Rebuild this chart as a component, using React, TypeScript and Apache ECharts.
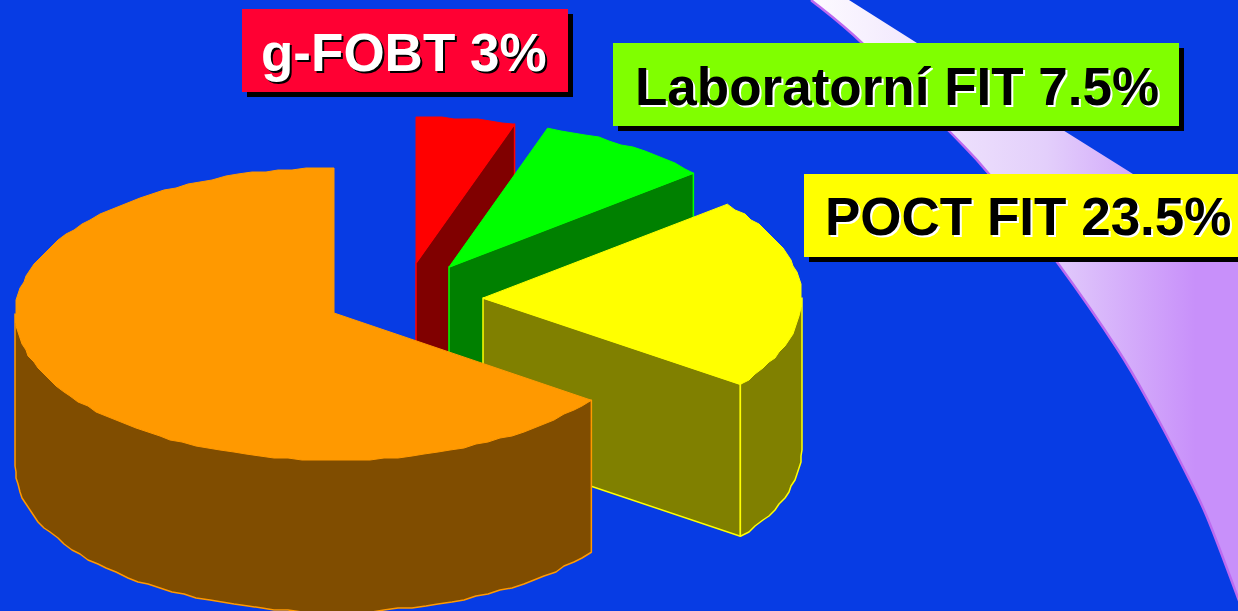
import React, { useEffect, useRef } from "react";
import * as echarts from "echarts";

// Slices clockwise from 12 o'clock. Shares are the angular sizes.
const sliceNames = ["g-FOBT", "Laboratorní FIT", "POCT FIT", "Ostatní"];
const drawnShares = [5.0, 8.89, 21.17, 64.94];
const labelTexts = ["g-FOBT 3%", "Laboratorní FIT 7.5%", "POCT FIT 23.5%"];

const BG = "#073CE4";
const RX = 319;
const RY = 146;
const DEPTH = 152;
const sliceStyles = [
  { cx: 416, cy: 263, top: "#FF0000", side: "#800000" },
  { cx: 449, cy: 267, top: "#00FF00", side: "#008000" },
  { cx: 483, cy: 298, top: "#FFFF00", side: "#808000" },
  { cx: 334, cy: 314, top: "#FF9900", side: "#804D00" },
];
const labelStyles = [
  { x: 242, y: 9, w: 326, h: 83, fill: "#FF0033", tx: 261, ty: 52, color: "#FFFFFF", shadow: "#000000" },
  { x: 613, y: 43, w: 566, h: 83, fill: "#80FF00", tx: 635, ty: 86, color: "#000000", shadow: "#FFFFFF" },
  { x: 804, y: 174, w: 440, h: 83, fill: "#FFFF00", tx: 825, ty: 216, color: "#000000", shadow: "#FFFFFF" },
];
const swooshLeft: number[][] = [[811, 0], [862, 43], [950, 132], [989, 174], [1057, 262], [1118, 350], [1153, 410], [1183, 467], [1207, 517], [1238, 598], [1246, 622]];

function spline(pts: number[][]) {
  let d = `M${pts[0][0]} ${pts[0][1]}`;
  for (let i = 0; i < pts.length - 1; i++) {
    const p0 = pts[Math.max(0, i - 1)], p1 = pts[i], p2 = pts[i + 1], p3 = pts[Math.min(pts.length - 1, i + 2)];
    const c1x = p1[0] + (p2[0] - p0[0]) / 6, c1y = p1[1] + (p2[1] - p0[1]) / 6;
    const c2x = p2[0] - (p3[0] - p1[0]) / 6, c2y = p2[1] - (p3[1] - p1[1]) / 6;
    d += ` C${c1x} ${c1y} ${c2x} ${c2y} ${p2[0]} ${p2[1]}`;
  }
  return d;
}

const rad = (a: number) => (a * Math.PI) / 180;
const snap = (v: number) => Math.round(v / 2) * 2;

// Points of an elliptical arc from angle a to angle b, with the stepped edge of the original.
function arc(cx: number, cy: number, a: number, b: number, dy = 0) {
  const n = Math.max(1, Math.ceil(Math.abs(b - a) / 2.5));
  const pts: number[][] = [];
  for (let i = 0; i <= n; i++) {
    const t = rad(a + ((b - a) * i) / n);
    const x = cx + RX * Math.cos(t), y = cy - RY * Math.sin(t);
    const exact = i === 0 || i === n;
    pts.push([exact ? x : snap(x - cx) + cx, (exact ? y : snap(y - cy) + cy) + dy]);
  }
  return pts;
}

// Upper edge of a wall: tucked under the top surface so no gap opens along the stepped edge.
function hiddenArc(cx: number, cy: number, a: number, b: number) {
  const pts = arc(cx, cy, a, b);
  return pts.map((p, i) => (i === 0 || i === pts.length - 1 ? p : [p[0], p[1] - 5]));
}

const renderSlice = (params: any, api: any) => {
  const i = params.dataIndex;
  const s = sliceStyles[i];
  const total = drawnShares.reduce((p, c) => p + c, 0);
  const before = drawnShares.slice(0, i).reduce((p, c) => p + c, 0);
  const t0 = 90 - (before / total) * 360;
  const t1 = t0 - (api.value(0) / total) * 360;
  const children: any[] = [];
  const wallStyle = { fill: s.side, stroke: s.top, lineWidth: 1.5, lineJoin: "round" };
  // radial face at the clockwise end, when it looks towards the viewer
  if (Math.cos(rad(t1)) > 0) {
    const ex = s.cx + RX * Math.cos(rad(t1));
    const ey = s.cy - RY * Math.sin(rad(t1));
    children.push({
      type: "polygon",
      shape: { points: [[s.cx, s.cy], [ex, ey], [ex, ey + DEPTH], [s.cx, s.cy + DEPTH]] },
      style: wallStyle,
    });
  }
  // outer wall on the front half of the ellipse
  const hi = Math.min(t0, 0), lo = Math.max(t1, -180);
  if (hi > lo) {
    children.push({
      type: "polygon",
      shape: { points: [...hiddenArc(s.cx, s.cy, hi, lo), ...arc(s.cx, s.cy, lo, hi, DEPTH)] },
      style: wallStyle,
    });
  }
  children.push({
    type: "polygon",
    shape: { points: [[s.cx, i === 3 ? s.cy - 1 : s.cy], ...arc(s.cx, s.cy, t0, t1)] },
    style: { fill: s.top, stroke: s.top, lineWidth: 1 },
  });
  return { type: "group", children };
};

export default function App() {
  const ref = useRef<HTMLDivElement>(null);
  useEffect(() => {
    document.body.style.margin = "0";
    document.body.style.background = BG;
    echarts.graphic.registerShape(
      "swooshBody",
      echarts.graphic.extendPath(spline(swooshLeft) + " L1300 622 L1300 290 L1238 243 L1133 174 L1066 132 L917 43 L849 0 Z", {})
    );
    echarts.graphic.registerShape("swooshEdge", echarts.graphic.extendPath(spline(swooshLeft), {}));
    const chart = echarts.init(ref.current!, undefined, { renderer: "svg" });
    const swooshFill = new echarts.graphic.LinearGradient(
      811, 0, 1238, 0,
      [
        { offset: 0, color: "#FDFBFF" },
        { offset: 0.55, color: "#E3CFFB" },
        { offset: 0.9, color: "#C890FA" },
        { offset: 1, color: "#C890FA" },
      ],
      true
    );
    const font = 'bold 53px "Liberation Sans", Arial, sans-serif';
    const labelGraphics: any[] = [];
    labelTexts.forEach((text, i) => {
      const l = labelStyles[i];
      labelGraphics.push(
        { type: "rect", z: 5, shape: { x: l.x + 5, y: l.y + 5, width: l.w, height: l.h }, style: { fill: "#000000" } },
        { type: "rect", z: 6, shape: { x: l.x, y: l.y, width: l.w, height: l.h }, style: { fill: l.fill } },
        {
          type: "text", z: 7, x: l.tx + 2, y: l.ty + 2,
          style: { text, fill: l.shadow, font, textAlign: "left", textVerticalAlign: "middle" },
        },
        {
          type: "text", z: 8, x: l.tx, y: l.ty,
          style: { text, fill: l.color, font, textAlign: "left", textVerticalAlign: "middle" },
        }
      );
    });
    chart.setOption({
      animation: false,
      backgroundColor: BG,
      graphic: {
        elements: [
          { type: "swooshBody", z: 1, x: 0, y: 0, style: { fill: swooshFill } },
          { type: "swooshEdge", z: 2, x: 0, y: 0, style: { fill: "none", stroke: "#BC6AF0", lineWidth: 2.5 } },
          ...labelGraphics,
        ],
      },
      series: [
        {
          type: "custom",
          coordinateSystem: "none",
          silent: true,
          clip: false,
          renderItem: renderSlice,
          encode: { value: 0, itemName: 1 },
          data: drawnShares.map((v, i) => [v, sliceNames[i]]),
        },
      ],
    });
    return () => chart.dispose();
  }, []);
  return <div ref={ref} style={{ width: 1238, height: 611 }} />;
}
